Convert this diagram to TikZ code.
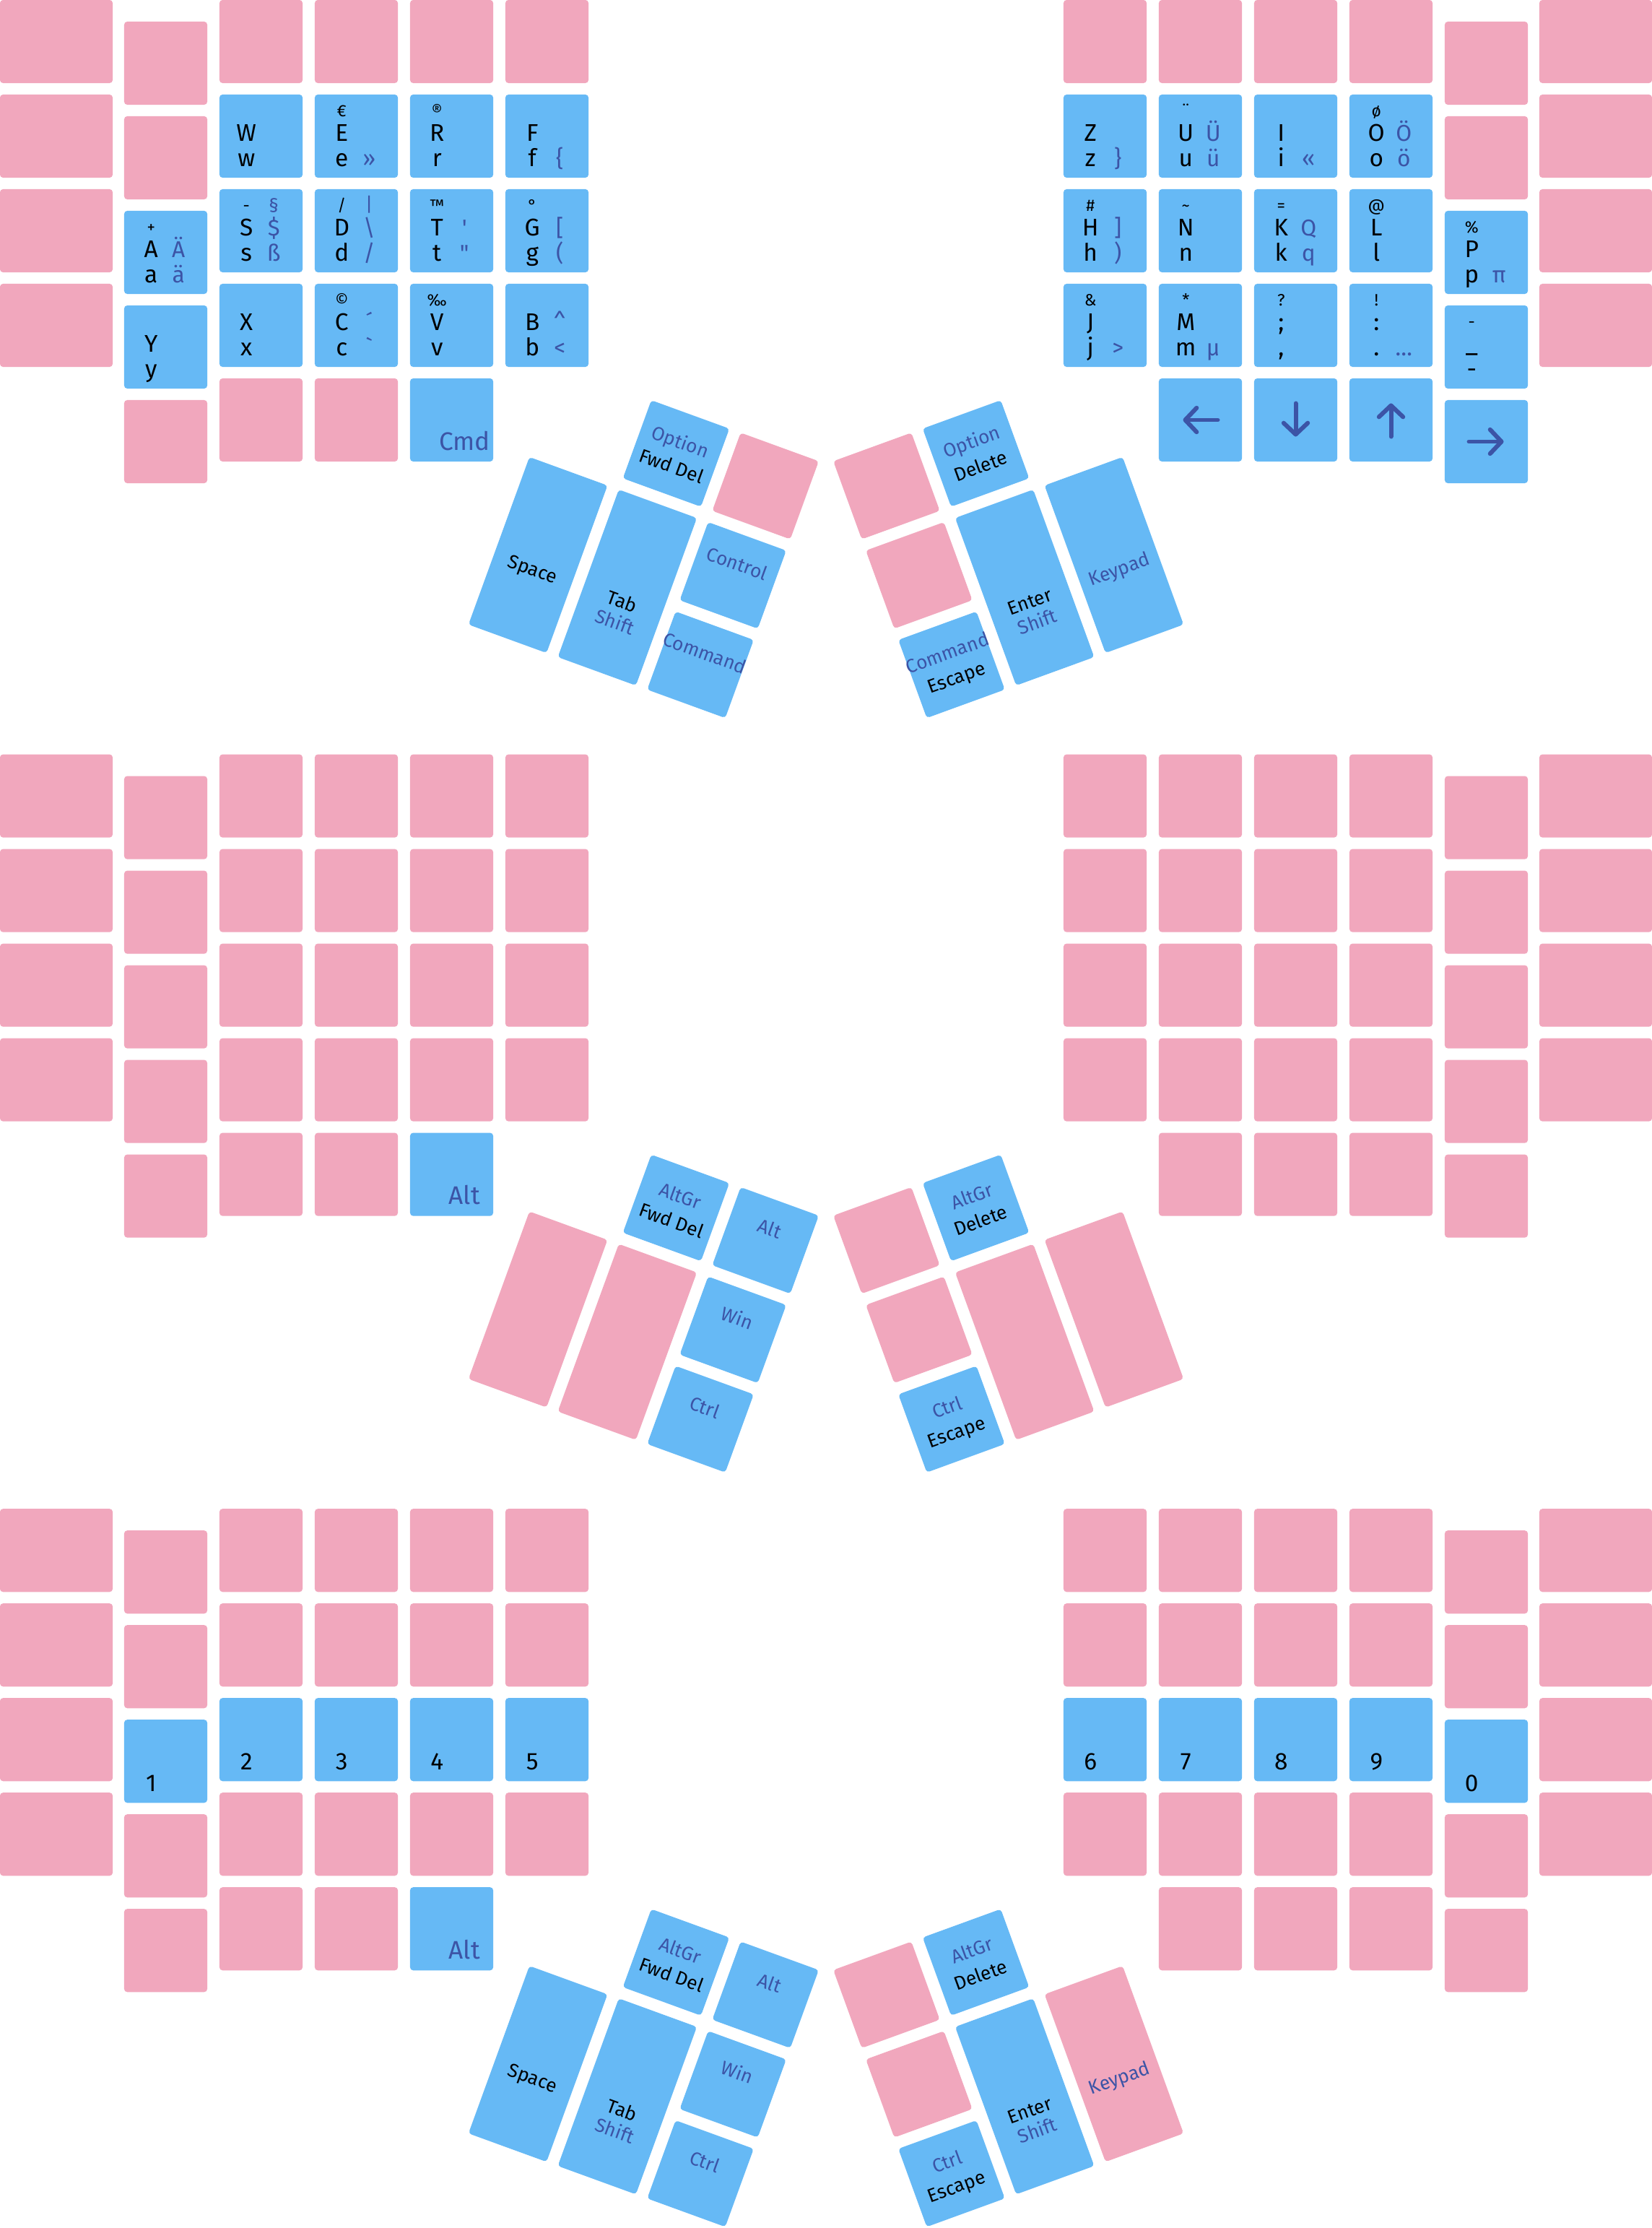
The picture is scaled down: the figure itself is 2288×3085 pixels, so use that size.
\documentclass[tikz,border=0pt]{standalone}
\usepackage{fontspec}
\newfontfamily\keyfont{Fira Sans}
\usetikzlibrary{arrows.meta}

\definecolor{keypink}{RGB}{241,167,189}
\definecolor{keyblue}{RGB}{102,185,245}
\definecolor{legblue}{RGB}{60,84,166}

\tikzset{
  keybox/.style={rectangle, rounded corners=1.2pt, inner sep=0pt, minimum height=1.15cm},
  pk/.style={fill=keypink},
  bk/.style={fill=keyblue},
  tone/.style={keybox, minimum width=1.15cm},
  ttwo/.style={keybox, minimum width=1.15cm, minimum height=2.467cm},
  lgmain/.style={anchor=base, inner sep=0pt, font=\keyfont\fontsize{9.5}{11}\selectfont},
  lgsmall/.style={anchor=base, inner sep=0pt, font=\keyfont\fontsize{6.5}{8}\selectfont},
  lgtopalt/.style={anchor=base, inner sep=0pt, text=legblue, font=\keyfont\fontsize{7.5}{9}\selectfont},
  lgalt/.style={anchor=base, inner sep=0pt, text=legblue, font=\keyfont\fontsize{9}{10}\selectfont},
  lgmod/.style={anchor=base, inner sep=0pt, text=legblue, font=\keyfont\fontsize{10}{12}\selectfont},
  tlab/.style={anchor=base, inner sep=0pt, font=\keyfont\fontsize{7.5}{9}\selectfont},
  tmod/.style={tlab, text=legblue},
  arrowkey/.style={draw=legblue, line width=1.7pt, line cap=round,
    -{Straight Barb[length=4.5pt, width=9.5pt, round]}},
}

% key of the main grid: name, block, side (1 left, -1 right), column from outer edge, row, colour
\newcommand{\keycap}[6]{%
  \pgfmathsetmacro\kw{#4==0 ? 1.56 : 1.15}%
  \pgfmathsetmacro\kl{#4==0 ? 0 : 172+132*(#4-1)}%
  \pgfmathsetmacro\kcx{1144+(#3)*(\kl+50*\kw-1144)}%
  \pgfmathsetmacro\kcy{1044.6*#2+131*#5+(#4==1 ? 30 : 0)+57.5}%
  \node[keybox, fill=#6, minimum width=\kw cm] (#1) at (\kcx,\kcy) {};%
  \expandafter\gdef\csname used-#2-#3-#4-#5\endcsname{}%
}
% one legend, drawn only if its text is not empty
\newcommand{\lgnode}[5]{%
  \if\relax\detokenize{#5}\relax\else
    \node[#1] (#2) at ([shift={#4}]#3.north west) {#5};%
  \fi}
% legends of a key: name, top, middle, bottom, then the same for the right column
\newcommand{\capleg}[7]{%
  \lgnode{lgsmall}{#1-a}{#1}{(38,31)}{#2}%
  \lgnode{lgmain}{#1-b}{#1}{(38,65)}{#3}%
  \lgnode{lgmain}{#1-c}{#1}{(38,100)}{#4}%
  \lgnode{lgtopalt}{#1-d}{#1}{(76,31)}{#5}%
  \lgnode{lgalt}{#1-e}{#1}{(76,65)}{#6}%
  \lgnode{lgalt}{#1-f}{#1}{(76,100)}{#7}%
}

\begin{document}
\begin{tikzpicture}[x=0.01cm, y=-0.01cm]
  \path[fill=white, use as bounding box] (0,0) rectangle (2288,3085);

  % Top block, left half
  \keycap{kA}{0}{1}{1}{2}{keyblue}   \capleg{kA}{+}{A}{a}{}{Ä}{ä}
  \keycap{kY}{0}{1}{1}{3}{keyblue}   \capleg{kY}{}{Y}{y}{}{}{}
  \keycap{kW}{0}{1}{2}{1}{keyblue}   \capleg{kW}{}{W}{w}{}{}{}
  \keycap{kS}{0}{1}{2}{2}{keyblue}   \capleg{kS}{-}{S}{s}{§}{\$}{ß}
  \keycap{kX}{0}{1}{2}{3}{keyblue}   \capleg{kX}{}{X}{x}{}{}{}
  \keycap{kE}{0}{1}{3}{1}{keyblue}   \capleg{kE}{€}{E}{e}{}{}{»}
  \keycap{kD}{0}{1}{3}{2}{keyblue}   \capleg{kD}{/}{D}{d}{|}{\textbackslash}{/}
  \keycap{kC}{0}{1}{3}{3}{keyblue}   \capleg{kC}{©}{C}{c}{}{´}{`}
  \keycap{kR}{0}{1}{4}{1}{keyblue}   \capleg{kR}{®}{R}{r}{}{}{}
  \keycap{kT}{0}{1}{4}{2}{keyblue}   \capleg{kT}{™}{T}{t}{}{'}{"}
  \keycap{kV}{0}{1}{4}{3}{keyblue}   \capleg{kV}{‰}{V}{v}{}{}{}
  \keycap{kCmd}{0}{1}{4}{4}{keyblue}
  \node[lgmod] (kCmd-t) at ([shift={(76,100)}]kCmd.north west) {Cmd};
  \keycap{kF}{0}{1}{5}{1}{keyblue}   \capleg{kF}{}{F}{f}{}{}{\{}
  \keycap{kG}{0}{1}{5}{2}{keyblue}   \capleg{kG}{°}{G}{g}{}{[}{(}
  \keycap{kB}{0}{1}{5}{3}{keyblue}   \capleg{kB}{}{B}{b}{}{\textasciicircum}{<}

  % Top block, right half
  \keycap{kZ}{0}{-1}{5}{1}{keyblue}  \capleg{kZ}{}{Z}{z}{}{}{\}}
  \keycap{kH}{0}{-1}{5}{2}{keyblue}  \capleg{kH}{\#}{H}{h}{}{]}{)}
  \keycap{kJ}{0}{-1}{5}{3}{keyblue}  \capleg{kJ}{\&}{J}{j}{}{}{>}
  \keycap{kU}{0}{-1}{4}{1}{keyblue}  \capleg{kU}{¨}{U}{u}{}{Ü}{ü}
  \keycap{kN}{0}{-1}{4}{2}{keyblue}  \capleg{kN}{\textasciitilde}{N}{n}{}{}{}
  \keycap{kM}{0}{-1}{4}{3}{keyblue}  \capleg{kM}{*}{M}{m}{}{}{µ}
  \keycap{kLeft}{0}{-1}{4}{4}{keyblue}
  \keycap{kI}{0}{-1}{3}{1}{keyblue}  \capleg{kI}{}{I}{i}{}{}{«}
  \keycap{kK}{0}{-1}{3}{2}{keyblue}  \capleg{kK}{=}{K}{k}{}{Q}{q}
  \keycap{kSemi}{0}{-1}{3}{3}{keyblue} \capleg{kSemi}{?}{;}{,}{}{}{}
  \keycap{kDown}{0}{-1}{3}{4}{keyblue}
  \keycap{kO}{0}{-1}{2}{1}{keyblue}  \capleg{kO}{ø}{O}{o}{}{Ö}{ö}
  \keycap{kL}{0}{-1}{2}{2}{keyblue}  \capleg{kL}{@}{L}{l}{}{}{}
  \keycap{kExcl}{0}{-1}{2}{3}{keyblue} \capleg{kExcl}{!}{:}{.}{}{}{…}
  \keycap{kUp}{0}{-1}{2}{4}{keyblue}
  \keycap{kP}{0}{-1}{1}{2}{keyblue}  \capleg{kP}{\%}{P}{p}{}{}{π}
  \keycap{kDash}{0}{-1}{1}{3}{keyblue} \capleg{kDash}{-}{\_}{-}{}{}{}
  \keycap{kRight}{0}{-1}{1}{4}{keyblue}

  % arrow keys
  \draw[arrowkey] ([xshift=0.24cm]kLeft.center) -- ([xshift=-0.24cm]kLeft.center);
  \draw[arrowkey] ([yshift=0.23cm]kDown.center) -- ([yshift=-0.23cm]kDown.center);
  \draw[arrowkey] ([yshift=-0.23cm]kUp.center) -- ([yshift=0.23cm]kUp.center);
  \draw[arrowkey] ([xshift=-0.24cm]kRight.center) -- ([xshift=0.24cm]kRight.center);

  % Middle block
  \keycap{kAltM}{1}{1}{4}{4}{keyblue}
  \node[lgmod] (kAltM-t) at ([shift={(76,100)}]kAltM.north west) {Alt};

  % Bottom block, number row
  \keycap{kOne}{2}{1}{1}{2}{keyblue}   \capleg{kOne}{}{}{1}{}{}{}
  \keycap{kTwo}{2}{1}{2}{2}{keyblue}   \capleg{kTwo}{}{}{2}{}{}{}
  \keycap{kThree}{2}{1}{3}{2}{keyblue} \capleg{kThree}{}{}{3}{}{}{}
  \keycap{kFour}{2}{1}{4}{2}{keyblue}  \capleg{kFour}{}{}{4}{}{}{}
  \keycap{kFive}{2}{1}{5}{2}{keyblue}  \capleg{kFive}{}{}{5}{}{}{}
  \keycap{kSix}{2}{-1}{5}{2}{keyblue}  \capleg{kSix}{}{}{6}{}{}{}
  \keycap{kSeven}{2}{-1}{4}{2}{keyblue} \capleg{kSeven}{}{}{7}{}{}{}
  \keycap{kEight}{2}{-1}{3}{2}{keyblue} \capleg{kEight}{}{}{8}{}{}{}
  \keycap{kNine}{2}{-1}{2}{2}{keyblue} \capleg{kNine}{}{}{9}{}{}{}
  \keycap{kZero}{2}{-1}{1}{2}{keyblue} \capleg{kZero}{}{}{0}{}{}{}
  \keycap{kAltB}{2}{1}{4}{4}{keyblue}
  \node[lgmod] (kAltB-t) at ([shift={(76,100)}]kAltB.north west) {Alt};

  % all other keys of the three grids are pink
  \foreach \bl in {0,1,2}
    \foreach \sd in {1,-1}
      \foreach \cl in {0,...,5} {
        \pgfmathtruncatemacro\rmax{(\cl==0 || \cl==5) ? 3 : 4}
        \foreach \rw in {0,...,\rmax} {
          \ifcsname used-\bl-\sd-\cl-\rw\endcsname\else
            \keycap{k-\bl-\sd-\cl-\rw}{\bl}{\sd}{\cl}{\rw}{keypink}
          \fi
        }
      }

  % Thumb clusters, top block
  \begin{scope}[shift={(936.4,627.9)}, rotate=-20, transform shape]
    \node[tone, bk] (tl1a) at (0,0) {};
    \node[tmod] (tl1a-u) at (0,-8) {Option};
    \node[tlab] (tl1a-l) at (0,28) {Fwd Del};
    \node[tone, pk] (tl1b) at (131.7,0) {};
    \node[tone, bk] (tl1c) at (131.7,131.7) {};
    \node[tmod] (tl1c-u) at (131.7,123.7) {Control};
    \node[tone, bk] (tl1d) at (131.7,263.4) {};
    \node[tmod] (tl1d-u) at (131.7,255.4) {Command};
    \node[ttwo, bk] (tl1e) at (0,197.55) {};
    \node[tlab] (tl1e-u) at (0,227.5) {Tab};
    \node[tmod] (tl1e-l) at (0,257.5) {Shift};
    \node[ttwo, bk] (tl1f) at (-131.7,197.55) {};
    \node[tlab] (tl1f-u) at (-131.7,227.5) {Space};
  \end{scope}
  \begin{scope}[shift={(1351.6,627.9)}, rotate=20, transform shape]
    \node[tone, bk] (tr1a) at (0,0) {};
    \node[tmod] (tr1a-u) at (0,-8) {Option};
    \node[tlab] (tr1a-l) at (0,28) {Delete};
    \node[tone, pk] (tr1b) at (-131.7,0) {};
    \node[tone, pk] (tr1c) at (-131.7,131.7) {};
    \node[tone, bk] (tr1d) at (-131.7,263.4) {};
    \node[tmod] (tr1d-u) at (-131.7,255.4) {Command};
    \node[tlab] (tr1d-l) at (-131.7,291.4) {Escape};
    \node[ttwo, bk] (tr1e) at (0,197.55) {};
    \node[tlab] (tr1e-u) at (0,227.5) {Enter};
    \node[tmod] (tr1e-l) at (0,257.5) {Shift};
    \node[ttwo, bk] (tr1f) at (131.7,197.55) {};
    \node[tmod] (tr1f-u) at (131.7,227.5) {Keypad};
  \end{scope}

  % Thumb clusters, middle block
  \begin{scope}[shift={(936.4,1672.5)}, rotate=-20, transform shape]
    \node[tone, bk] (tl2a) at (0,0) {};
    \node[tmod] (tl2a-u) at (0,-8) {AltGr};
    \node[tlab] (tl2a-l) at (0,28) {Fwd Del};
    \node[tone, bk] (tl2b) at (131.7,0) {};
    \node[tmod] (tl2b-u) at (131.7,-8) {Alt};
    \node[tone, bk] (tl2c) at (131.7,131.7) {};
    \node[tmod] (tl2c-u) at (131.7,123.7) {Win};
    \node[tone, bk] (tl2d) at (131.7,263.4) {};
    \node[tmod] (tl2d-u) at (131.7,255.4) {Ctrl};
    \node[ttwo, pk] (tl2e) at (0,197.55) {};
    \node[ttwo, pk] (tl2f) at (-131.7,197.55) {};
  \end{scope}
  \begin{scope}[shift={(1351.6,1672.5)}, rotate=20, transform shape]
    \node[tone, bk] (tr2a) at (0,0) {};
    \node[tmod] (tr2a-u) at (0,-8) {AltGr};
    \node[tlab] (tr2a-l) at (0,28) {Delete};
    \node[tone, pk] (tr2b) at (-131.7,0) {};
    \node[tone, pk] (tr2c) at (-131.7,131.7) {};
    \node[tone, bk] (tr2d) at (-131.7,263.4) {};
    \node[tmod] (tr2d-u) at (-131.7,255.4) {Ctrl};
    \node[tlab] (tr2d-l) at (-131.7,291.4) {Escape};
    \node[ttwo, pk] (tr2e) at (0,197.55) {};
    \node[ttwo, pk] (tr2f) at (131.7,197.55) {};
  \end{scope}

  % Thumb clusters, bottom block
  \begin{scope}[shift={(936.4,2717.1)}, rotate=-20, transform shape]
    \node[tone, bk] (tl3a) at (0,0) {};
    \node[tmod] (tl3a-u) at (0,-8) {AltGr};
    \node[tlab] (tl3a-l) at (0,28) {Fwd Del};
    \node[tone, bk] (tl3b) at (131.7,0) {};
    \node[tmod] (tl3b-u) at (131.7,-8) {Alt};
    \node[tone, bk] (tl3c) at (131.7,131.7) {};
    \node[tmod] (tl3c-u) at (131.7,123.7) {Win};
    \node[tone, bk] (tl3d) at (131.7,263.4) {};
    \node[tmod] (tl3d-u) at (131.7,255.4) {Ctrl};
    \node[ttwo, bk] (tl3e) at (0,197.55) {};
    \node[tlab] (tl3e-u) at (0,227.5) {Tab};
    \node[tmod] (tl3e-l) at (0,257.5) {Shift};
    \node[ttwo, bk] (tl3f) at (-131.7,197.55) {};
    \node[tlab] (tl3f-u) at (-131.7,227.5) {Space};
  \end{scope}
  \begin{scope}[shift={(1351.6,2717.1)}, rotate=20, transform shape]
    \node[tone, bk] (tr3a) at (0,0) {};
    \node[tmod] (tr3a-u) at (0,-8) {AltGr};
    \node[tlab] (tr3a-l) at (0,28) {Delete};
    \node[tone, pk] (tr3b) at (-131.7,0) {};
    \node[tone, pk] (tr3c) at (-131.7,131.7) {};
    \node[tone, bk] (tr3d) at (-131.7,263.4) {};
    \node[tmod] (tr3d-u) at (-131.7,255.4) {Ctrl};
    \node[tlab] (tr3d-l) at (-131.7,291.4) {Escape};
    \node[ttwo, bk] (tr3e) at (0,197.55) {};
    \node[tlab] (tr3e-u) at (0,227.5) {Enter};
    \node[tmod] (tr3e-l) at (0,257.5) {Shift};
    \node[ttwo, pk] (tr3f) at (131.7,197.55) {};
    \node[tmod] (tr3f-u) at (131.7,227.5) {Keypad};
  \end{scope}
\end{tikzpicture}
\end{document}
